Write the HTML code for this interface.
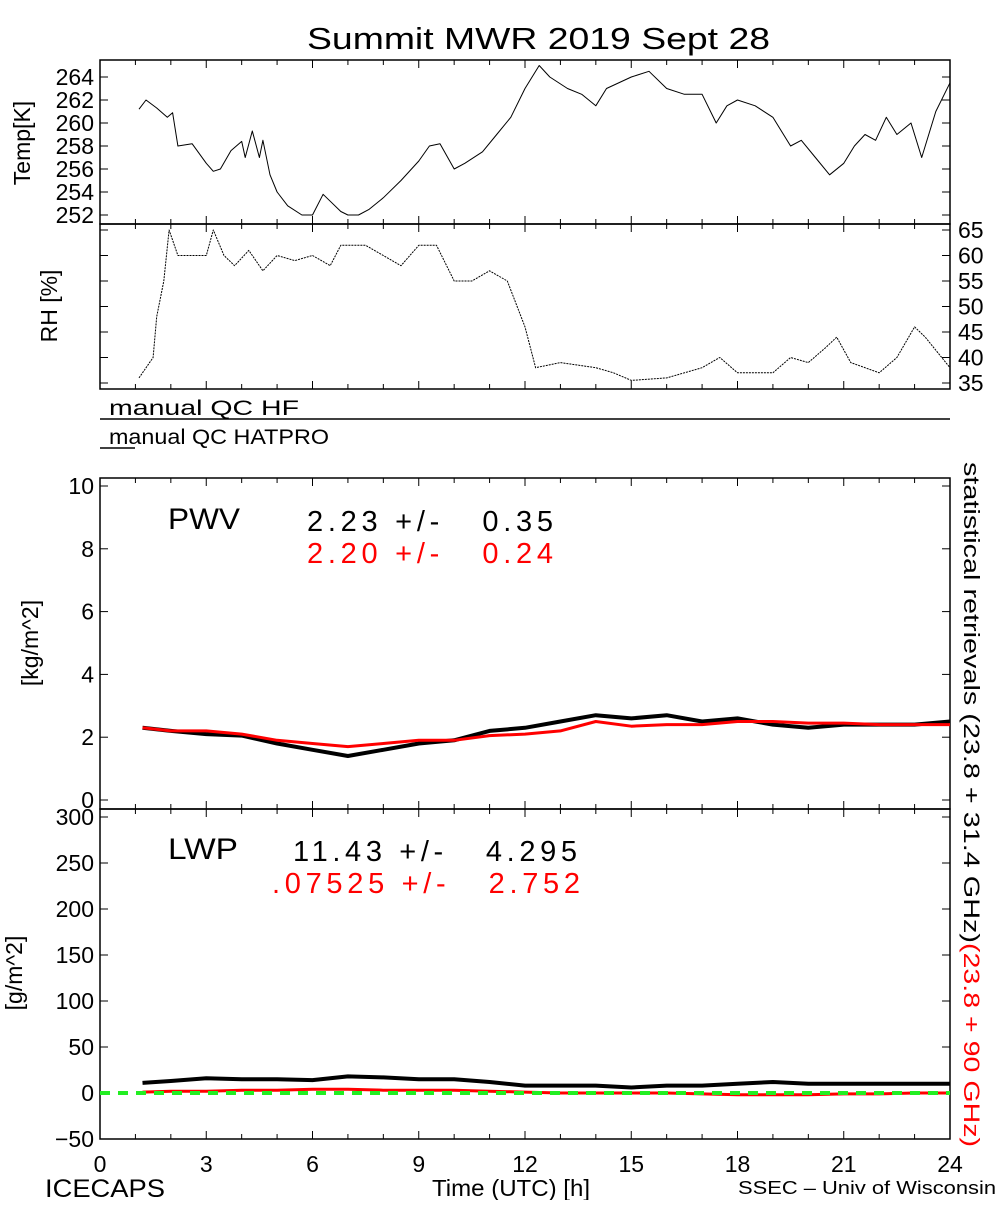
<!DOCTYPE html>
<html><head><meta charset="utf-8"><style>
body{margin:0;background:#fff;}
svg text{font-family:"Liberation Sans",sans-serif;}
</style></head><body>
<svg id="chart" width="1000" height="1200" viewBox="0 0 1000 1200" xmlns="http://www.w3.org/2000/svg">
<rect width="1000" height="1200" fill="#fff"/>
<text x="307" y="49" font-size="31" textLength="463" lengthAdjust="spacingAndGlyphs">Summit MWR 2019 Sept 28</text>
<g id="g"></g>
</svg>
<script>
const tempT=[1.1,1.3,1.6,1.9,2.05,2.2,2.6,3.0,3.2,3.4,3.7,4.0,4.1,4.3,4.5,4.6,4.8,5.0,5.3,5.7,6.0,6.3,6.5,6.8,7.0,7.3,7.6,8.0,8.5,9.0,9.3,9.6,10.0,10.3,10.8,11.2,11.6,12.0,12.4,12.7,13.2,13.6,14.0,14.3,15.0,15.5,16.0,16.5,17.0,17.4,17.7,18.0,18.5,19.0,19.5,19.8,20.2,20.6,21.0,21.3,21.6,21.9,22.2,22.5,22.9,23.2,23.6,24.0];
const tempV=[261.2,262,261.3,260.5,260.9,258,258.2,256.5,255.8,256,257.6,258.4,257,259.3,257,258.5,255.5,254,252.8,252,252,253.8,253.2,252.3,252,252,252.5,253.5,255,256.7,258,258.2,256,256.5,257.5,259,260.5,263,265,264,263,262.5,261.5,263,264,264.5,263,262.5,262.5,260,261.5,262,261.5,260.5,258,258.5,257,255.5,256.5,258,259,258.5,260.5,259,260,257,261,263.5];
const rhT=[1.1,1.5,1.6,1.8,1.95,2.2,2.5,3.0,3.2,3.5,3.8,4.2,4.6,5.0,5.5,6.0,6.5,6.8,7.5,8.0,8.5,9.0,9.5,10.0,10.5,11.0,11.5,12.0,12.3,13.0,14.0,14.5,15.0,16.0,17.0,17.5,18.0,19.0,19.5,20.0,20.5,20.8,21.2,22.0,22.5,23.0,23.3,24.0];
const rhV=[36,40,48,55,65,60,60,60,65,60,58,61,57,60,59,60,58,62,62,60,58,62,62,55,55,57,55,46,38,39,38,37,35.5,36,38,40,37,37,40,39,42,44,39,37,40,46,44,38];
const pwvT=[1.2,2,3,4,5,6,7,8,9,10,11,12,13,14,15,16,17,18,19,20,21,22,23,24];
const pwvBlack=[2.3,2.2,2.1,2.05,1.8,1.6,1.4,1.6,1.8,1.9,2.2,2.3,2.5,2.7,2.6,2.7,2.5,2.6,2.4,2.3,2.4,2.4,2.4,2.5];
const pwvRed=[2.3,2.2,2.2,2.1,1.9,1.8,1.7,1.8,1.9,1.9,2.05,2.1,2.2,2.5,2.35,2.4,2.4,2.5,2.5,2.45,2.45,2.4,2.4,2.4];
const lwpT=[1.2,2,3,4,5,6,7,8,9,10,11,12,13,14,15,16,17,18,19,20,21,22,23,24];
const lwpBlack=[11,13,16,15,15,14,18,17,15,15,12,8,8,8,6,8,8,10,12,10,10,10,10,10];
const lwpRed=[1,2,2,3,3,4,4,3,3,3,2,1,0,0,0,0,-1,-2,-2,-2,-1,-1,0,0];
const tempTicks=[252,254,256,258,260,262,264];
const rhTicks=[35,40,45,50,55,60,65];
const pwvTicks=[0,2,4,6,8,10];
const lwpTicks=[-50,0,50,100,150,200,250,300];
const xTicks=[0,3,6,9,12,15,18,21,24];

const NS="http://www.w3.org/2000/svg";
const G=document.getElementById('g');
const X0=100,X1=950;
const x=h=>X0+(X1-X0)*h/24;
const yT=v=>77+(264-v)*11.5;
const yR=v=>383-(v-35)*5.1;
const yP=v=>800-v*31.4;
const yL=v=>1093-v*0.92;
function el(tag,attrs,txt){const e=document.createElementNS(NS,tag);for(const k in attrs)e.setAttribute(k,attrs[k]);if(txt!==undefined)e.textContent=txt;G.appendChild(e);return e;}

const panels=[[60,224,'temp-panel'],[224,389,'rh-panel'],[478,809,'pwv-panel'],[809,1139,'lwp-panel']];
panels.forEach(p=>{
  const r=el('rect',{x:X0,y:p[0],width:X1-X0,height:p[1]-p[0],fill:'none',stroke:'#000','stroke-width':1.5});
  
  
  for(let h=0;h<=24;h++){
    const L=(h%3===0)?8:5;
    el('line',{x1:x(h),x2:x(h),y1:p[1],y2:p[1]-L,stroke:'#000'});
    el('line',{x1:x(h),x2:x(h),y1:p[0],y2:p[0]+L,stroke:'#000'});
  }
});
function yticks(ticks,fy,side,name){
  ticks.forEach(v=>{
    const y=fy(v);
    el('line',{x1:X0,x2:X0+8,y1:y,y2:y,stroke:'#000'});
    el('line',{x1:X1,x2:X1-8,y1:y,y2:y,stroke:'#000'});
    const t=el('text',{x:side==='l'?X0-6:X1+8,y:y+8,'font-size':23,'text-anchor':side==='l'?'end':'start'},String(v).replace('-','\u2212'));
    
    
  });
}
yticks(tempTicks,yT,'l','temp-tick-label');
yticks(rhTicks,yR,'r','rh-tick-label');
yticks(pwvTicks,yP,'l','pwv-tick-label');
yticks(lwpTicks,yL,'l','lwp-tick-label');
xTicks.forEach(h=>{
  const t=el('text',{x:x(h),y:1172,'font-size':23,'text-anchor':'middle'},String(h));
  
  
});
function line(T,V,fx,fy,col,w,name,dash){
  const pts=T.map((t,i)=>fx(t).toFixed(1)+','+fy(V[i]).toFixed(1)).join(' ');
  const p=el('polyline',{points:pts,fill:'none',stroke:col,'stroke-width':w,'stroke-linejoin':'round'});
  if(dash)p.setAttribute('stroke-dasharray',dash);
  
  
}
line(tempT,tempV,x,yT,'#000',1,'temp-line');
line(rhT,rhV,x,yR,'#000',1,'rh-line','2 1');
line(pwvT,pwvBlack,x,yP,'#000',4,'pwv-black-line');
line(pwvT,pwvRed,x,yP,'#f00',3,'pwv-red-line');
line(lwpT,lwpBlack,x,yL,'#000',4,'lwp-black-line');
line(lwpT,lwpRed,x,yL,'#f00',3,'lwp-red-line');
const z=el('line',{x1:X0,x2:X1,y1:yL(0),y2:yL(0),stroke:'#2e2','stroke-width':4,'stroke-dasharray':'10 8'});


</script>
<div style="position:absolute;left:0;top:0;width:1000px;height:1200px;pointer-events:none">
<svg width="1000" height="1200" xmlns="http://www.w3.org/2000/svg" style="font-family:'Liberation Sans',sans-serif">
<text transform="translate(30,143) rotate(-90)" font-size="23" text-anchor="middle">Temp[K]</text>
<text transform="translate(57,306) rotate(-90)" font-size="23" text-anchor="middle">RH [%]</text>
<text x="109" y="415" font-size="21" textLength="190" lengthAdjust="spacingAndGlyphs">manual QC HF</text>
<line x1="100" x2="950" y1="419" y2="419" stroke="#000" stroke-width="1.5"/>
<text x="109" y="444" font-size="21" textLength="220" lengthAdjust="spacingAndGlyphs">manual QC HATPRO</text>
<line x1="100" x2="135" y1="448" y2="448" stroke="#000" stroke-width="1.5"/>
<text transform="translate(38,643) rotate(-90)" font-size="23" text-anchor="middle">[kg/m^2]</text>
<text transform="translate(22,973) rotate(-90)" font-size="23" text-anchor="middle">[g/m^2]</text>
<text x="168" y="529" font-size="30" textLength="72" lengthAdjust="spacingAndGlyphs">PWV</text>
<text x="307" y="531" font-size="29" textLength="246" lengthAdjust="spacing" xml:space="preserve">2.23 +/-   0.35</text>
<text x="307" y="563" font-size="29" fill="#f00" textLength="246" lengthAdjust="spacing" xml:space="preserve">2.20 +/-   0.24</text>
<text x="168" y="859" font-size="30" textLength="70" lengthAdjust="spacingAndGlyphs">LWP</text>
<text x="293" y="861" font-size="29" textLength="284" lengthAdjust="spacing" xml:space="preserve">11.43 +/-   4.295</text>
<text x="272" y="893" font-size="29" fill="#f00" textLength="308" lengthAdjust="spacing" xml:space="preserve">.07525 +/-   2.752</text>
<g transform="translate(964,462) rotate(90)">
<text x="0" y="0" font-size="22" textLength="481" lengthAdjust="spacingAndGlyphs">statistical retrievals (23.8 + 31.4 GHz)</text>
<text x="481" y="0" font-size="22" fill="#f00" textLength="204" lengthAdjust="spacingAndGlyphs">(23.8 + 90 GHz)</text>
</g>
<text x="45" y="1197" font-size="25" textLength="120" lengthAdjust="spacingAndGlyphs">ICECAPS</text>
<text x="432" y="1196" font-size="23" textLength="158" lengthAdjust="spacingAndGlyphs">Time (UTC) [h]</text>
<text x="738" y="1194" font-size="18" textLength="258" lengthAdjust="spacingAndGlyphs">SSEC – Univ of Wisconsin</text>
</svg></div>
</body></html>
